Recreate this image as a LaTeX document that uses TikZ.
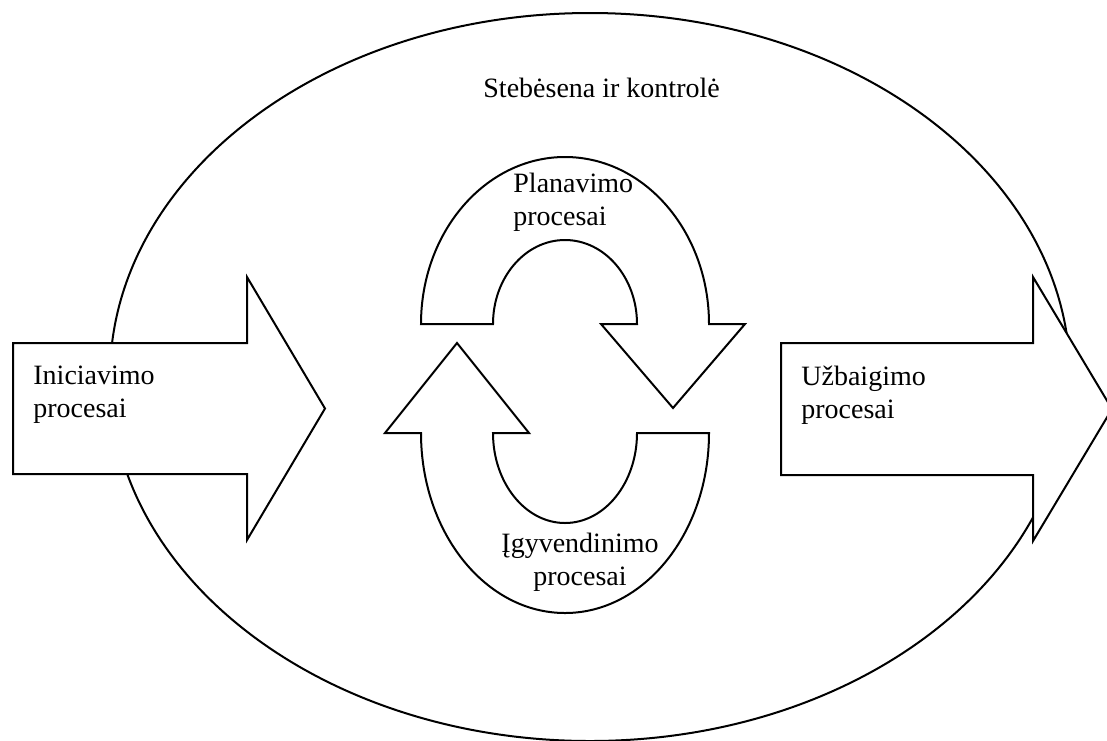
\documentclass[tikz,border=0pt]{standalone}
\usepackage{fontspec}
\setmainfont{Liberation Serif}
\begin{document}
\begin{tikzpicture}[x=0.5pt,y=0.5pt,
  shape line/.style={draw=black, line width=1pt, fill=white, line join=miter},
  lbl/.style={inner sep=0pt, font=\fontsize{14}{16.5}\selectfont, align=left, anchor=base west}]
\useasboundingbox (0,0) rectangle (1107,-740);
\clip (0,0) rectangle (1107,-740);
% outer ellipse
\draw[line width=1pt] (590,-377) ellipse[x radius=480, y radius=364];
% left arrow
\path[shape line] (13,-343) -- (247,-343) -- (247,-277) -- (325,-408.5) -- (247,-540) -- (247,-474) -- (13,-474) -- cycle;
% right arrow
\path[shape line] (781,-343) -- (1033,-343) -- (1033,-277) -- (1112,-409) -- (1033,-541) -- (1033,-475) -- (781,-475) -- cycle;
% upper U-arrow
\path[shape line] (421,-324) -- (493,-324) arc[start angle=180, end angle=0, x radius=72, y radius=84]
  -- (601,-324) -- (673,-408) -- (745,-324) -- (709,-324)
  arc[start angle=0, end angle=180, x radius=144, y radius=167] -- cycle;
% lower U-arrow
\path[shape line] (421,-433) arc[start angle=180, end angle=360, x radius=144, y radius=180]
  -- (637,-433) arc[start angle=0, end angle=-180, x radius=72, y radius=90]
  -- (529,-433) -- (457,-343) -- (385,-433) -- cycle;
% labels
\node[lbl] (stebesena) at (483,-97) {Stebėsena ir kontrolė};
\node[lbl] (iniciavimo) at (33,-417) {Iniciavimo\\procesai};
\node[lbl] (uzbaigimo) at (801,-418) {Užbaigimo\\procesai};
\node[lbl] (planavimo) at (513,-225) {Planavimo\\procesai};
\node[lbl, align=center, anchor=base] (igyvendinimo) at (580,-585) {Įgyvendinimo\\procesai};
\end{tikzpicture}
\end{document}
